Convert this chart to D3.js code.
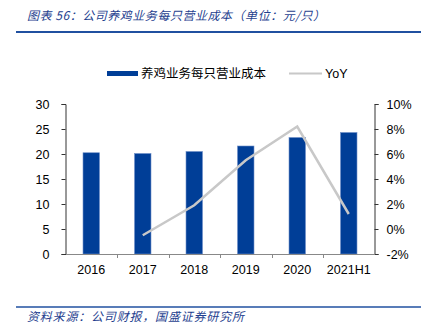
<!DOCTYPE html>
<html><head><meta charset="utf-8">
<script src="https://cdn.jsdelivr.net/npm/d3@7"></script>
<style>body{margin:0;background:#fff}svg{display:block}</style>
</head><body>
<svg id="c" width="428" height="327"></svg>
<script>
const categories = ["2016","2017","2018","2019","2020","2021H1"];
const costValues = [20.25, 20.1, 20.5, 21.6, 23.3, 24.3];
const yoyValues = [null, -0.5, 1.9, 5.5, 8.2, 1.2];
const leftTicks = [0,5,10,15,20,25,30];
const rightTicks = [-2,0,2,4,6,8,10];
const titleText = "图表 56：公司养鸡业务每只营业成本（单位：元/只）";
const sourceText = "资料来源：公司财报，国盛证券研究所";
const legendNames = ["养鸡业务每只营业成本","YoY"];

const svg = d3.select("#c");
const L = 65.5, R = 374.5, T = 104, B = 254;
const blue = "#003E97", gray = "#C8C8C8";
const font = "'Liberation Sans', Arial, sans-serif";
const cjk = "'Noto Sans CJK SC', sans-serif";

const x = d3.scaleBand().domain(categories).range([L, R]).paddingInner(0.68).paddingOuter(0.34);
const xb = d3.scaleBand().domain(categories).range([L, R]);
const yL = d3.scaleLinear().domain([0,30]).range([B, T]);
const yR = d3.scaleLinear().domain([-2,10]).range([B, T]);

// title
svg.append("text").attr("x",27).attr("y",20).attr("font-family",cjk).attr("font-style","italic")
  .attr("font-size",12).attr("fill","#1F3F8F").attr("textLength",298).attr("lengthAdjust","spacing").text(titleText);
svg.append("line").attr("x1",16).attr("x2",421).attr("y1",32).attr("y2",32).attr("stroke","#2050A0").attr("stroke-width",2);

// bars
svg.append("g").selectAll("rect").data(categories).join("rect")
  .attr("x",d=>x(d)).attr("width",x.bandwidth())
  .attr("y",(d,i)=>yL(costValues[i])).attr("height",(d,i)=>B-yL(costValues[i]))
  .attr("fill",blue).attr("stroke","#6F8FC8").attr("stroke-width",0.6);

// line
const pts = categories.map((c,i)=>[xb(c)+xb.bandwidth()/2, yoyValues[i]]).filter(p=>p[1]!==null);
svg.append("path").datum(pts).attr("fill","none").attr("stroke",gray).attr("stroke-width",2.5)
  .attr("d",d3.line().x(d=>d[0]).y(d=>yR(d[1])));

// axes
const axL = svg.append("g").attr("transform",`translate(${L},0)`)
  .call(d3.axisLeft(yL).tickValues(leftTicks).tickSize(4).tickPadding(12));
const axR = svg.append("g").attr("transform",`translate(${R},0)`)
  .call(d3.axisRight(yR).tickValues(rightTicks).tickSize(4).tickPadding(8).tickFormat(d=>d+"%"));
const axB = svg.append("g").attr("transform",`translate(0,${B})`)
  .call(d3.axisBottom(xb).tickSize(0).tickPadding(11));
// boundary ticks on bottom
svg.append("g").selectAll("line").data(categories.slice(1)).join("line")
  .attr("x1",d=>Math.round(xb(d))+0.5).attr("x2",d=>Math.round(xb(d))+0.5)
  .attr("y1",B).attr("y2",B+4).attr("stroke","#888");
[axL,axR,axB].forEach(a=>{
  a.selectAll("path").attr("stroke","#333");
  a.selectAll("line").attr("stroke","#333");
  a.selectAll("text").attr("font-family",font).attr("font-size",12.5).attr("fill","#000");
});
axB.select("path").attr("stroke","#888");

// legend
svg.append("rect").attr("x",107).attr("y",71).attr("width",31).attr("height",5).attr("fill",blue);
svg.append("text").attr("x",141).attr("y",78).attr("font-family",cjk).attr("font-size",12.5).text(legendNames[0]);
svg.append("line").attr("x1",289).attr("x2",322).attr("y1",73.5).attr("y2",73.5).attr("stroke",gray).attr("stroke-width",2);
svg.append("text").attr("x",325).attr("y",78).attr("font-family",font).attr("font-size",12.5).text(legendNames[1]);

// footer
svg.append("line").attr("x1",16).attr("x2",421).attr("y1",307).attr("y2",307).attr("stroke","#2050A0").attr("stroke-width",1.5);
svg.append("text").attr("x",27).attr("y",321).attr("font-family",cjk).attr("font-style","italic")
  .attr("font-size",12).attr("fill","#1F3F8F").attr("textLength",217).attr("lengthAdjust","spacing").text(sourceText);
</script>
</body></html>
